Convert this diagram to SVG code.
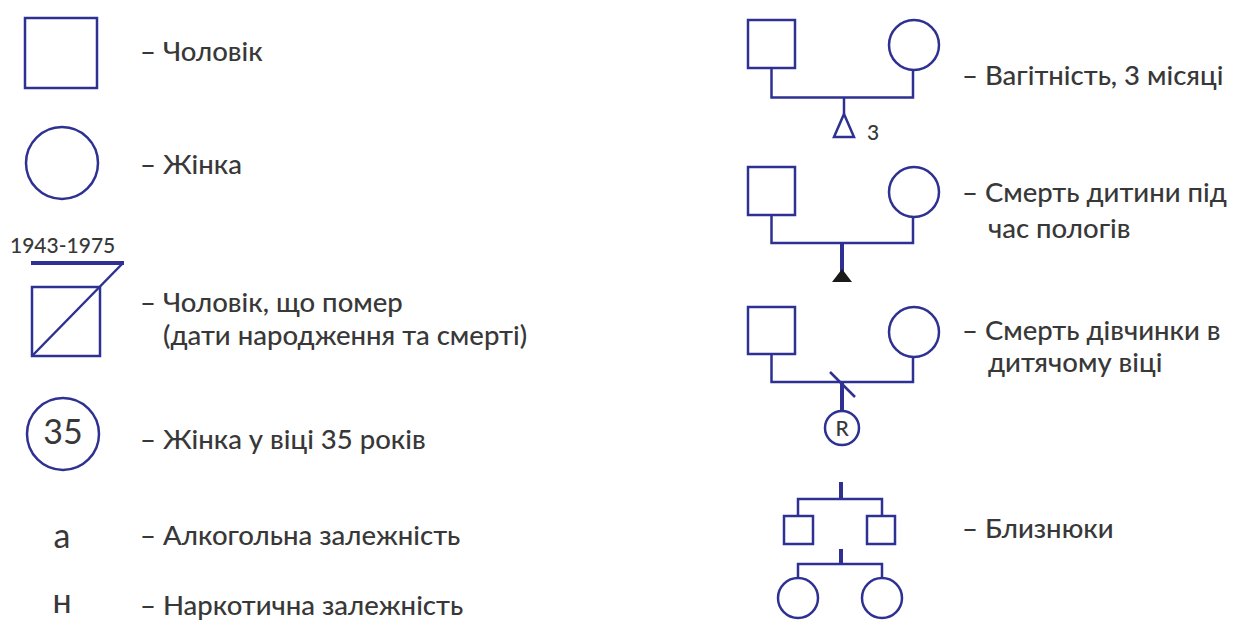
<svg xmlns="http://www.w3.org/2000/svg" width="1242" height="622" viewBox="0 0 1242 622">
<style>
.s{fill:none;stroke:#2e3192;stroke-width:2.5}
.t{font-family:Lato,"Open Sans","Noto Sans",sans-serif;font-size:27.5px;font-weight:500;fill:#383838}
.sm{font-family:Lato,"Open Sans","Noto Sans",sans-serif;font-size:21px;font-weight:500;fill:#383838}
.sym{font-family:Lato,"Open Sans","Noto Sans",sans-serif;font-size:34px;font-weight:400;fill:#383838}
.thick{fill:none;stroke:#2e3192;stroke-width:4}
</style>
<rect width="1242" height="622" fill="#fff"/>
<g id="male"><rect class="s" x="25" y="18" width="72" height="70"/><text class="t" x="140" y="61">– Чоловік</text></g>
<g id="female"><circle class="s" cx="62" cy="163" r="36"/><text class="t" x="140" y="174">– Жінка</text></g>
<g id="deceased-male">
<text class="sm" x="10" y="253">1943-1975</text>
<line class="thick" x1="31" y1="263" x2="124" y2="263"/>
<rect class="s" x="32" y="287" width="68" height="69"/>
<line class="s" x1="123" y1="263" x2="32" y2="356"/>
<text class="t" x="140" y="312">– Чоловік, що помер</text>
<text class="t" x="163" y="345">(дати народження та смерті)</text>
</g>
<g id="female-35"><circle class="s" cx="63" cy="434" r="36"/><text class="sym" x="63" y="444" text-anchor="middle" font-size="31">35</text><text class="t" x="140" y="449">– Жінка у віці 35 років</text></g>
<g id="alcohol"><text class="sym" x="62" y="548" text-anchor="middle">а</text><text class="t" x="140" y="545">– Алкогольна залежність</text></g>
<g id="drugs"><text class="sym" x="62" y="613" text-anchor="middle">н</text><text class="t" x="140" y="615">– Наркотична залежність</text></g>

<g id="pregnancy">
<rect class="s" x="748" y="20" width="47" height="48"/>
<circle class="s" cx="914" cy="45" r="25"/>
<path class="s" d="M771.5 68V97.5H913V70"/>
<path class="s" d="M844 97.5V114"/>
<path class="s" d="M844 114L854 137H834Z"/>
<text class="sm" x="867" y="140" font-size="20">3</text>
<text class="t" x="962" y="85">– Вагітність, 3 місяці</text>
</g>
<g id="stillbirth">
<rect class="s" x="748" y="167" width="47" height="48"/>
<circle class="s" cx="914" cy="192" r="25"/>
<path class="s" d="M771.5 215V243H913V217"/>
<path class="thick" d="M842 243V272"/>
<path d="M842 269L852 282H832Z" fill="#1a1a1a"/>
<text class="t" x="962" y="202">– Смерть дитини під</text>
<text class="t" x="988" y="238">час пологів</text>
</g>
<g id="infant-death">
<rect class="s" x="748" y="307" width="47" height="47"/>
<circle class="s" cx="914" cy="332" r="25"/>
<path class="s" d="M771.5 354V382H913V357"/>
<line class="s" x1="830" y1="372" x2="855" y2="397"/>
<path class="thick" d="M842 382V411"/>
<circle class="s" cx="842" cy="428" r="17"/>
<text class="sm" x="842" y="436" text-anchor="middle" font-size="22" font-weight="400">R</text>
<text class="t" x="962" y="340">– Смерть дівчинки в</text>
<text class="t" x="988" y="372">дитячому віці</text>
</g>
<g id="twins">
<path class="thick" d="M841 482V499"/>
<path class="s" d="M798 516V499H882V516"/>
<rect class="s" x="784" y="516" width="29" height="28"/>
<rect class="s" x="867" y="516" width="28" height="28"/>
<path class="thick" d="M841 549V565"/>
<path class="s" d="M798 578V564H882V578"/>
<circle class="s" cx="798" cy="598" r="20"/>
<circle class="s" cx="882" cy="598" r="20"/>
<text class="t" x="962" y="538">– Близнюки</text>
</g>
</svg>
